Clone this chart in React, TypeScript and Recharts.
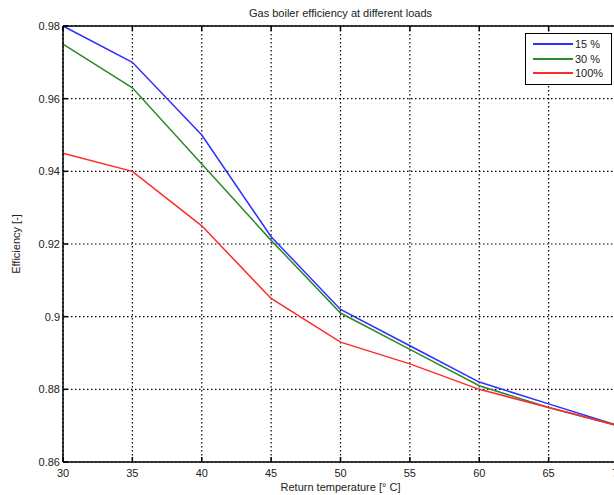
import { LineChart, Line, XAxis, YAxis, CartesianGrid, Legend } from 'recharts';

// return temperature [°C]
const temps = [30, 35, 40, 45, 50, 55, 60, 65, 70];
// efficiency at the three loads
const eff15 = [0.98, 0.97, 0.95, 0.922, 0.902, 0.892, 0.882, 0.876, 0.87];
const eff30 = [0.975, 0.963, 0.942, 0.921, 0.901, 0.891, 0.881, 0.875, 0.87];
const eff100 = [0.945, 0.94, 0.925, 0.905, 0.893, 0.887, 0.88, 0.875, 0.87];

const xTicks = [30, 35, 40, 45, 50, 55, 60, 65, 70];
const yTicks = [0.86, 0.88, 0.9, 0.92, 0.94, 0.96, 0.98];

const series = [
  { key: 'l15', name: '15 %', color: '#2f2fff' },
  { key: 'l30', name: '30 %', color: '#2a8a2a' },
  { key: 'l100', name: '100%', color: '#ff2a2a' },
];

const data = temps.map((t, i) => ({ t, l15: eff15[i], l30: eff30[i], l100: eff100[i] }));

const FONT = '"Liberation Sans", Arial, sans-serif';
const fmtY = (v: number) => String(Number(v.toFixed(2)));

const BottomTick = (props: any) => {
  const { x, y, payload } = props;
  return (
    <g>
      <line x1={x} y1={y} x2={x} y2={y - 5} stroke="#000" strokeWidth={1.5} />
      <text x={x} y={y + 15} textAnchor="middle" fontSize={11} fontFamily={FONT} fill="#222">
        {payload.value}
      </text>
    </g>
  );
};

const TopTick = (props: any) => {
  const { x, y } = props;
  return <line x1={x} y1={y} x2={x} y2={y + 5} stroke="#000" strokeWidth={1.5} />;
};

const LeftTick = (props: any) => {
  const { x, y, payload } = props;
  return (
    <g>
      <line x1={x} y1={y} x2={x + 5} y2={y} stroke="#000" strokeWidth={1.5} />
      <text x={x - 3} y={y + 4} textAnchor="end" fontSize={11} fontFamily={FONT} fill="#222">
        {fmtY(payload.value)}
      </text>
    </g>
  );
};

const LegendBox = () => (
  <div
    style={{
      border: '1.5px solid #000',
      background: '#fff',
      width: 78,
      padding: '3px 0 3px 7px',
      fontFamily: FONT,
      fontSize: 11,
      color: '#222',
    }}
  >
    {series.map((s) => (
      <div key={s.key} style={{ display: 'flex', alignItems: 'center', height: 14.5 }}>
        <svg width={42} height={6}>
          <line x1={0} y1={3} x2={40} y2={3} stroke={s.color} strokeWidth={2} />
        </svg>
        <span>{s.name}</span>
      </div>
    ))}
  </div>
);

export default function App() {
  return (
    <div
      style={{
        position: 'absolute',
        left: 0,
        top: 0,
        width: 614,
        height: 495,
        overflow: 'hidden',
        background: '#fff',
      }}
    >
      <LineChart width={640} height={495} data={data} margin={{ top: 0, right: 22, bottom: 0, left: 0 }}>
        <CartesianGrid stroke="#000" strokeWidth={1.2} strokeDasharray="1.5 2.5" vertical horizontal />
        <XAxis
          dataKey="t"
          type="number"
          domain={[30, 70]}
          ticks={xTicks}
          interval={0}
          height={33}
          tickSize={0}
          tickMargin={0}
          tick={BottomTick}
          axisLine={{ stroke: '#000', strokeWidth: 1.5 }}
          tickLine={false}
          label={{
            value: 'Return temperature [° C]',
            position: 'insideBottom',
            offset: 4,
            fontSize: 11,
            fontFamily: FONT,
            fill: '#222',
          }}
        />
        <XAxis
          xAxisId="top"
          dataKey="t"
          type="number"
          orientation="top"
          domain={[30, 70]}
          ticks={xTicks}
          interval={0}
          height={26}
          tickSize={0}
          tickMargin={0}
          tick={TopTick}
          axisLine={{ stroke: '#000', strokeWidth: 1.5 }}
          tickLine={false}
          label={{
            value: 'Gas boiler efficiency at different loads',
            position: 'center',
            fontSize: 11,
            fontFamily: FONT,
            fill: '#222',
          }}
        />
        <YAxis
          type="number"
          domain={[0.86, 0.98]}
          ticks={yTicks}
          interval={0}
          width={63}
          tickSize={0}
          tickMargin={0}
          tick={LeftTick}
          axisLine={{ stroke: '#000', strokeWidth: 1.5 }}
          tickLine={false}
          label={{
            value: 'Efficiency [-]',
            angle: -90,
            position: 'insideLeft',
            offset: 16,
            style: { textAnchor: 'middle' },
            fontSize: 11,
            fontFamily: FONT,
            fill: '#222',
          }}
        />
        <Legend
          layout="vertical"
          align="center"
          verticalAlign="middle"
          content={LegendBox}
          wrapperStyle={{ top: 33, left: 525, width: 'auto' }}
        />
        {series.map((s) => (
          <Line
            key={s.key}
            dataKey={s.key}
            name={s.name}
            type="linear"
            stroke={s.color}
            strokeWidth={1.5}
            dot={false}
            isAnimationActive={false}
          />
        ))}
      </LineChart>
    </div>
  );
}
